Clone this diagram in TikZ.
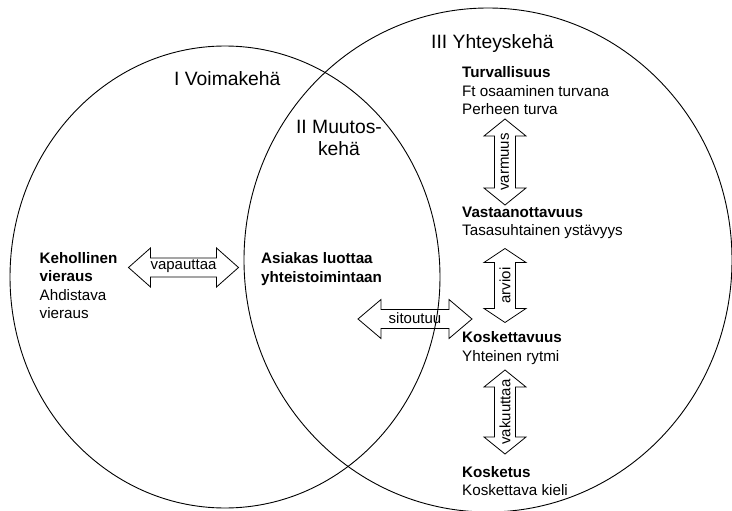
\documentclass[tikz,border=0pt]{standalone}
\usepackage{fontspec}
\setmainfont{Liberation Sans}
\newcommand{\dblblock}[6]{%
  \draw[blockarrow, shift={#1}, rotate=#2]
    (-#3,0) -- ({-#3+#4},#5) -- ({-#3+#4},#6) -- ({#3-#4},#6) -- ({#3-#4},#5)
    -- (#3,0) -- ({#3-#4},-#5) -- ({#3-#4},-#6) -- ({-#3+#4},-#6) -- ({-#3+#4},-#5) -- cycle;}
\begin{document}
\begin{tikzpicture}[x=1pt,y=-1pt,
  ring/.style={line width=0.9pt},
  blockarrow/.style={line width=0.8pt, line join=miter},
  body/.style={font=\fontsize{15.2}{18.5}\selectfont, inner sep=0pt, align=left, anchor=base west},
  title/.style={font=\fontsize{19.3}{22}\selectfont, inner sep=0pt},
  lbl/.style={font=\fontsize{15}{17}\selectfont, inner sep=0pt}]
\useasboundingbox (0,0) rectangle (732,511);
% circles
\draw[ring] (225,277) ellipse [x radius=215pt, y radius=231pt];
\draw[ring] (488,260) ellipse [x radius=244pt, y radius=252pt];
% titles (anchor = baseline of last line)
\node[title, anchor=base west] (t1) at (174,86) {I Voimakehä};
\node[title, anchor=base west] (t3) at (431,48.5) {III Yhteyskehä};
\node[title, align=center, anchor=base] (t2) at (339,156) {II Muutos-\\kehä};
% text blocks (anchor = baseline of last line)
\node[body] (turva) at (462,115) {\textbf{Turvallisuus}\\Ft osaaminen turvana\\Perheen turva};
\node[body] (vasta) at (462,235.5) {\textbf{Vastaanottavuus}\\Tasasuhtainen ystävyys};
\node[body] (kosk) at (462,361) {\textbf{Koskettavuus}\\Yhteinen rytmi};
\node[body] (kosket) at (462,495.5) {\textbf{Kosketus}\\Koskettava kieli};
\node[body] (kehol) at (39.5,318.5) {\textbf{Kehollinen}\\\textbf{vieraus}\\Ahdistava\\vieraus};
\node[body] (asiakas) at (261,282) {\textbf{Asiakas luottaa}\\\textbf{yhteistoimintaan}};
% arrow centres
\coordinate (c1) at (183.5,267.5);
\coordinate (c2) at (415,319);
\coordinate (c3) at (505,162);
\coordinate (c4) at (505,285.5);
\coordinate (c5) at (505,412);
% block arrows
\dblblock{(c1)}{0}{55}{22}{19.5}{9.5}
\dblblock{(c2)}{0}{57}{23}{19.5}{9.5}
\dblblock{(c3)}{90}{43}{17}{21}{10.5}
\dblblock{(c4)}{90}{37}{14}{21}{10.5}
\dblblock{(c5)}{90}{42}{17}{21}{10.5}
% labels
\node[lbl, yshift=1pt] (l1) at (c1) {vapauttaa};
\node[lbl, yshift=1pt] (l2) at (c2) {sitoutuu};
\node[lbl, rotate=90] (l3) at (c3) {varmuus};
\node[lbl, rotate=90] (l4) at (c4) {arvioi};
\node[lbl, rotate=90] (l5) at (c5) {vakuuttaa};
\end{tikzpicture}
\end{document}
